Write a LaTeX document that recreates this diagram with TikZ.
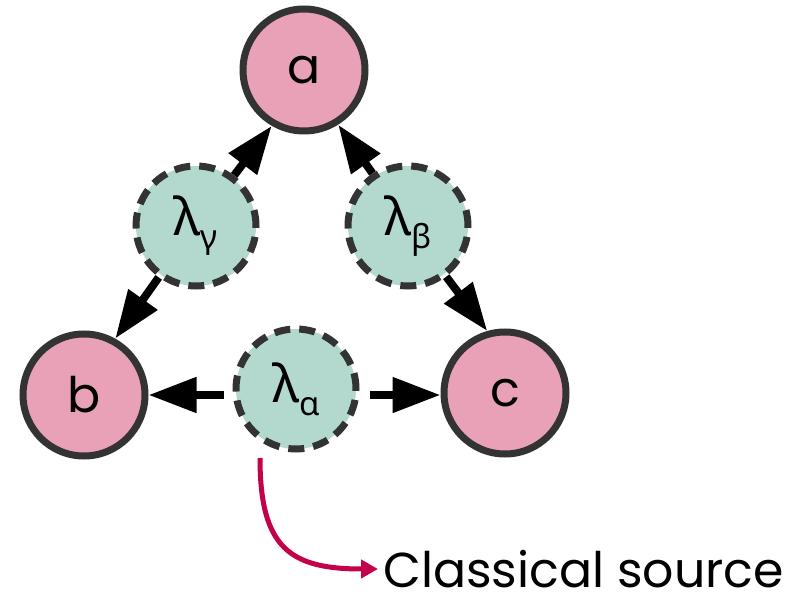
\documentclass[tikz,border=0pt]{standalone}
\usepackage{fontspec}
\setmainfont{Poppins}
\newfontfamily\greekfont{Noto Sans}
\usetikzlibrary{arrows.meta,backgrounds}
\definecolor{nodepink}{HTML}{E8A1B6}
\definecolor{srcgreen}{HTML}{B3D9CE}
\definecolor{edgegray}{HTML}{333333}
\definecolor{srcred}{HTML}{C3024A}
\newcommand{\lam}[1]{{\greekfont\fontsize{52}{62}\selectfont λ\raisebox{-0.25em}{\fontsize{33}{40}\selectfont #1}}}
\tikzset{
  party/.style={circle, minimum size=122pt, inner sep=0pt, line width=7pt,
    draw=edgegray, fill=nodepink, font=\fontsize{49}{58}\selectfont},
  source/.style={circle, minimum size=120pt, inner sep=0pt, line width=7pt,
    draw=edgegray, fill=srcgreen, dash pattern=on 16pt off 9pt},
  link/.style={line width=8pt, -{Triangle[length=48pt,width=34pt]}},
  origin/.style={line width=5pt, draw=srcred, -{Triangle[length=17pt,width=18pt]}},
}
\begin{document}
\begin{tikzpicture}[x=1pt,y=-1pt]
  \useasboundingbox (0,0) rectangle (812,596);

  % parties
  \node[party] (a) at (304,70) {a};
  \node[party] (b) at (84,395) {b};
  \node[party] (c) at (505,393) {c};

  % hidden sources
  \node[source] (g)  at (196,226) {\lam{γ}};
  \node[source] (be) at (408,226) {\lam{β}};
  \node[source] (al) at (296,389) {\lam{α}};

  \begin{scope}[on background layer]
    \draw[link] (g.53)   -- (a.-120);
    \draw[link] (be.124) -- (a.-58);
    \draw[link] (g.-126) -- (b.61);
    \draw[link] (be.-53) -- (c.106);
  \end{scope}
  \draw[link, shorten <=9pt]  (al.west |- b.east) -- (b.east);
  \draw[link, shorten <=10pt] (al.east |- b.east) -- (c.west |- b.east);

  % label for the classical source
  \node[anchor=west, inner sep=0pt, font=\fontsize{49}{58}\selectfont] (lbl) at (383,569) {Classical source};
  \coordinate (src) at (260,458);
  \draw[origin, shorten >=5pt] (src) .. controls (260,548) and (290,569) .. (lbl.west);
\end{tikzpicture}
\end{document}
